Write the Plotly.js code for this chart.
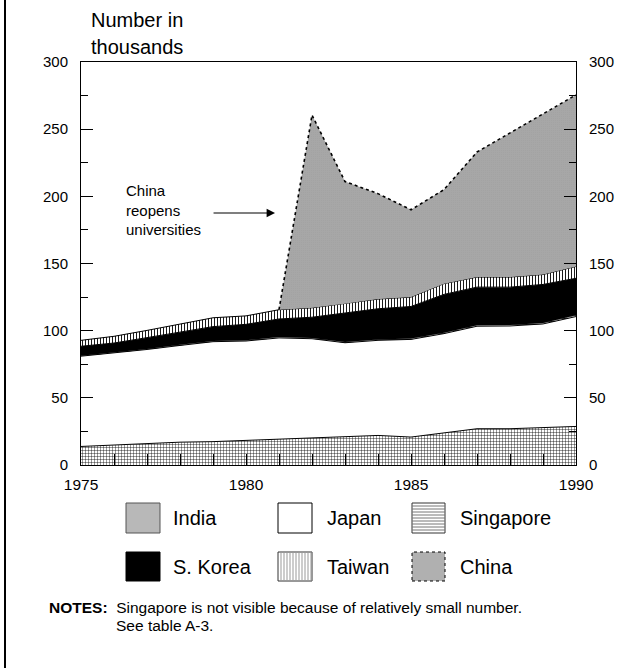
<!DOCTYPE html>
<html><head><meta charset="utf-8">
<script src="https://cdn.plot.ly/plotly-3.0.1.min.js"></script>
<style>html,body{margin:0;padding:0;background:#fff;} #chart{width:637px;height:668px;}</style>
</head><body><div id="chart"></div>
<script>
// ---- data (thousands of students) ----
const years = [1975,1976,1977,1978,1979,1980,1981,1982,1983,1984,1985,1986,1987,1988,1989,1990];
const names = ['India','Japan','Singapore','S. Korea','Taiwan','China'];
const india     = [13.8,14.9,16.0,17.0,17.4,18.3,19.3,20.3,21.0,22.0,20.8,24.0,27.0,27.0,27.8,28.7];
const japan     = [67.2,68.5,70.0,72.0,74.4,74.0,75.3,73.7,70.0,70.8,72.7,73.8,76.3,76.5,77.2,81.8];
const singapore = [0.4,0.4,0.4,0.5,0.5,0.5,0.6,0.6,0.6,0.7,0.7,0.7,0.8,0.8,0.8,0.9];
const korea     = [7.0,7.0,8.4,9.5,10.7,11.9,13.5,15.4,21.4,22.8,23.8,28.5,28.3,28.1,28.6,27.6];
const taiwan    = [4.4,5.0,5.4,5.7,6.6,6.3,6.9,7.0,7.0,7.2,7.0,8.0,7.5,7.5,7.4,8.8];
const china     = [null,null,null,null,null,null,0,143.5,91.0,78.5,65.0,70.0,93.1,107.1,119.2,127.7];
const yTicks = [0,50,100,150,200,250,300];
const xTicks = [1975,1980,1985,1990];

// ---- geometry helpers (layout only) ----
const L=81, R=576, T=62, B=465;
const px = x => (x-L)/(R-L);
const py = y => (B-y)/(B-T);
const FONT = 'Liberation Sans, Arial, sans-serif';

const add = (a,b) => a.map((v,i)=> v + (b[i]||0));
const cIndia = india.slice();
const cJapan = add(cIndia, japan);
const cSing  = add(cJapan, singapore);
const cKorea = add(cSing, korea);
const cTaiwan= add(cKorea, taiwan);
const chYears=[], chBase=[], chTop=[];
years.forEach((y,i)=>{ if(china[i]!==null){ chYears.push(y); chBase.push(cTaiwan[i]); chTop.push(cTaiwan[i]+china[i]); }});

const blk = {color:'#000', width:1};
const traces = [
  {x:years, y:cIndia, name:names[0], mode:'lines', line:blk, fill:'tozeroy', fillcolor:'#fff',
   fillpattern:{shape:'+', fgcolor:'#000', bgcolor:'#fff', size:3, solidity:0.25}},
  {x:years, y:cJapan, name:names[1], mode:'lines', line:blk, fill:'tonexty', fillcolor:'#ffffff'},
  {x:years, y:cSing, name:names[2], mode:'lines', line:{color:'#000',width:0.5}, fill:'tonexty', fillcolor:'#fff',
   fillpattern:{shape:'-', fgcolor:'#000', bgcolor:'#fff', size:3, solidity:0.3}},
  {x:years, y:cKorea, name:names[3], mode:'lines', line:blk, fill:'tonexty', fillcolor:'#000'},
  {x:years, y:cTaiwan, name:names[4], mode:'lines', line:blk, fill:'tonexty', fillcolor:'#fff',
   fillpattern:{shape:'|', fgcolor:'#000', bgcolor:'#fff', size:3, solidity:0.3}},
  {x:chYears, y:chBase, mode:'lines', line:{width:0, color:'rgba(0,0,0,0)'}, showlegend:false, hoverinfo:'skip'},
  {x:chYears, y:chTop, name:names[5], mode:'lines', line:{color:'#000', width:1.6, dash:'dot'}, fill:'tonexty', fillcolor:'#fff',
   fillpattern:{shape:'.', fgcolor:'#000', bgcolor:'#fff', size:2, solidity:0.33}},
  {x:[1975,1990], y:[null,null], yaxis:'y2', showlegend:false, hoverinfo:'skip', mode:'lines'}
];

const yax = {range:[0,300], tickvals:yTicks, ticks:'inside', ticklen:12, tickcolor:'#000', tickwidth:1,
  minor:{dtick:25, ticks:'inside', ticklen:7, tickcolor:'#000'},
  showline:true, linecolor:'#000', linewidth:1, showgrid:false, zeroline:false,
  tickfont:{family:FONT, size:15, color:'#000'}, ticklabelstandoff:9, fixedrange:true};

// ---- legend swatches (layout shapes) ----
const shapes = [
  {type:'line', xref:'paper', yref:'paper', x0:px(5), x1:px(5), y0:py(668), y1:py(0), line:{color:'#000', width:2}}
];
const cols = [[126,160,171],[278,312,325],[412,445,458]];
const rows = [[503,533],[552,581]];
const annotations = [];
const sw = [
  {fill:'#b8b8b8', line:'#555', dash:'solid'},
  {fill:'#ffffff', line:'#000', dash:'solid'},
  {fill:'#ffffff', line:'#333', dash:'solid', hlines:true},
  {fill:'#000000', line:'#000', dash:'solid'},
  {fill:'#ffffff', line:'#333', dash:'solid', vlines:true},
  {fill:'#b0b0b0', line:'#000', dash:'dot'}
];
names.forEach((n,i)=>{
  const c = cols[i%3], r = rows[Math.floor(i/3)], s = sw[i];
  shapes.push({type:'rect', xref:'paper', yref:'paper', x0:px(c[0]), x1:px(c[1]), y0:py(r[1]), y1:py(r[0]),
    fillcolor:s.fill, line:{color:s.line, width:1, dash:s.dash}});
  if(s.hlines){ for(let yy=r[0]+3; yy<r[1]; yy+=3) shapes.push({type:'line', xref:'paper', yref:'paper', x0:px(c[0]), x1:px(c[1]), y0:py(yy), y1:py(yy), line:{color:'#777', width:1}}); }
  if(s.vlines){ for(let xx=c[0]+3; xx<c[1]; xx+=3) shapes.push({type:'line', xref:'paper', yref:'paper', x0:px(xx), x1:px(xx), y0:py(r[1]), y1:py(r[0]), line:{color:'#999', width:1}}); }
  annotations.push({xref:'paper', yref:'paper', x:px(c[2]), y:py((r[0]+r[1])/2), xanchor:'left', yanchor:'middle',
    text:n, showarrow:false, font:{family:FONT, size:20, color:'#000'}});
});

annotations.push(
  {xref:'paper', yref:'paper', x:px(89), y:py(20), xanchor:'left', yanchor:'middle', text:'Number in', showarrow:false, font:{family:FONT, size:20, color:'#000'}},
  {xref:'paper', yref:'paper', x:px(89), y:py(47), xanchor:'left', yanchor:'middle', text:'thousands', showarrow:false, font:{family:FONT, size:20, color:'#000'}},
  {xref:'paper', yref:'paper', x:px(124), y:py(210), xanchor:'left', yanchor:'middle', align:'left',
   text:'China<br>reopens<br>universities', showarrow:false, font:{family:FONT, size:15, color:'#000'}},
  {xref:'x', yref:'y', x:1980.88, y:187.6, ax:-63, ay:0, text:'', showarrow:true, arrowhead:2, arrowsize:1.4, arrowwidth:1.2, arrowcolor:'#000'},
  {xref:'paper', yref:'paper', x:px(47), y:py(607), xanchor:'left', yanchor:'middle', showarrow:false,
   text:'<b>NOTES:</b>  Singapore is not visible because of relatively small number.', font:{family:FONT, size:15.5, color:'#000'}},
  {xref:'paper', yref:'paper', x:px(114), y:py(625), xanchor:'left', yanchor:'middle', showarrow:false,
   text:'See table A-3.', font:{family:FONT, size:15.5, color:'#000'}}
);

const layout = {
  width:637, height:668, margin:{l:L, r:637-R, t:T, b:668-B, pad:0},
  paper_bgcolor:'#fff', plot_bgcolor:'#fff', showlegend:false,
  xaxis:{range:[1975,1990], tickvals:xTicks, ticks:'inside', ticklen:11, tickcolor:'#000',
    minor:{dtick:1, ticks:'inside', ticklen:11, tickcolor:'#000'},
    showline:true, mirror:true, linecolor:'#000', linewidth:1, showgrid:false, zeroline:false,
    tickfont:{family:FONT, size:15.5, color:'#000'}, ticklabelstandoff:5, fixedrange:true},
  yaxis:Object.assign({}, yax),
  yaxis2:Object.assign({}, yax, {overlaying:'y', side:'right', anchor:'x'}),
  shapes:shapes, annotations:annotations
};
Plotly.newPlot('chart', traces, layout, {staticPlot:true, displayModeBar:false});
</script></body></html>
